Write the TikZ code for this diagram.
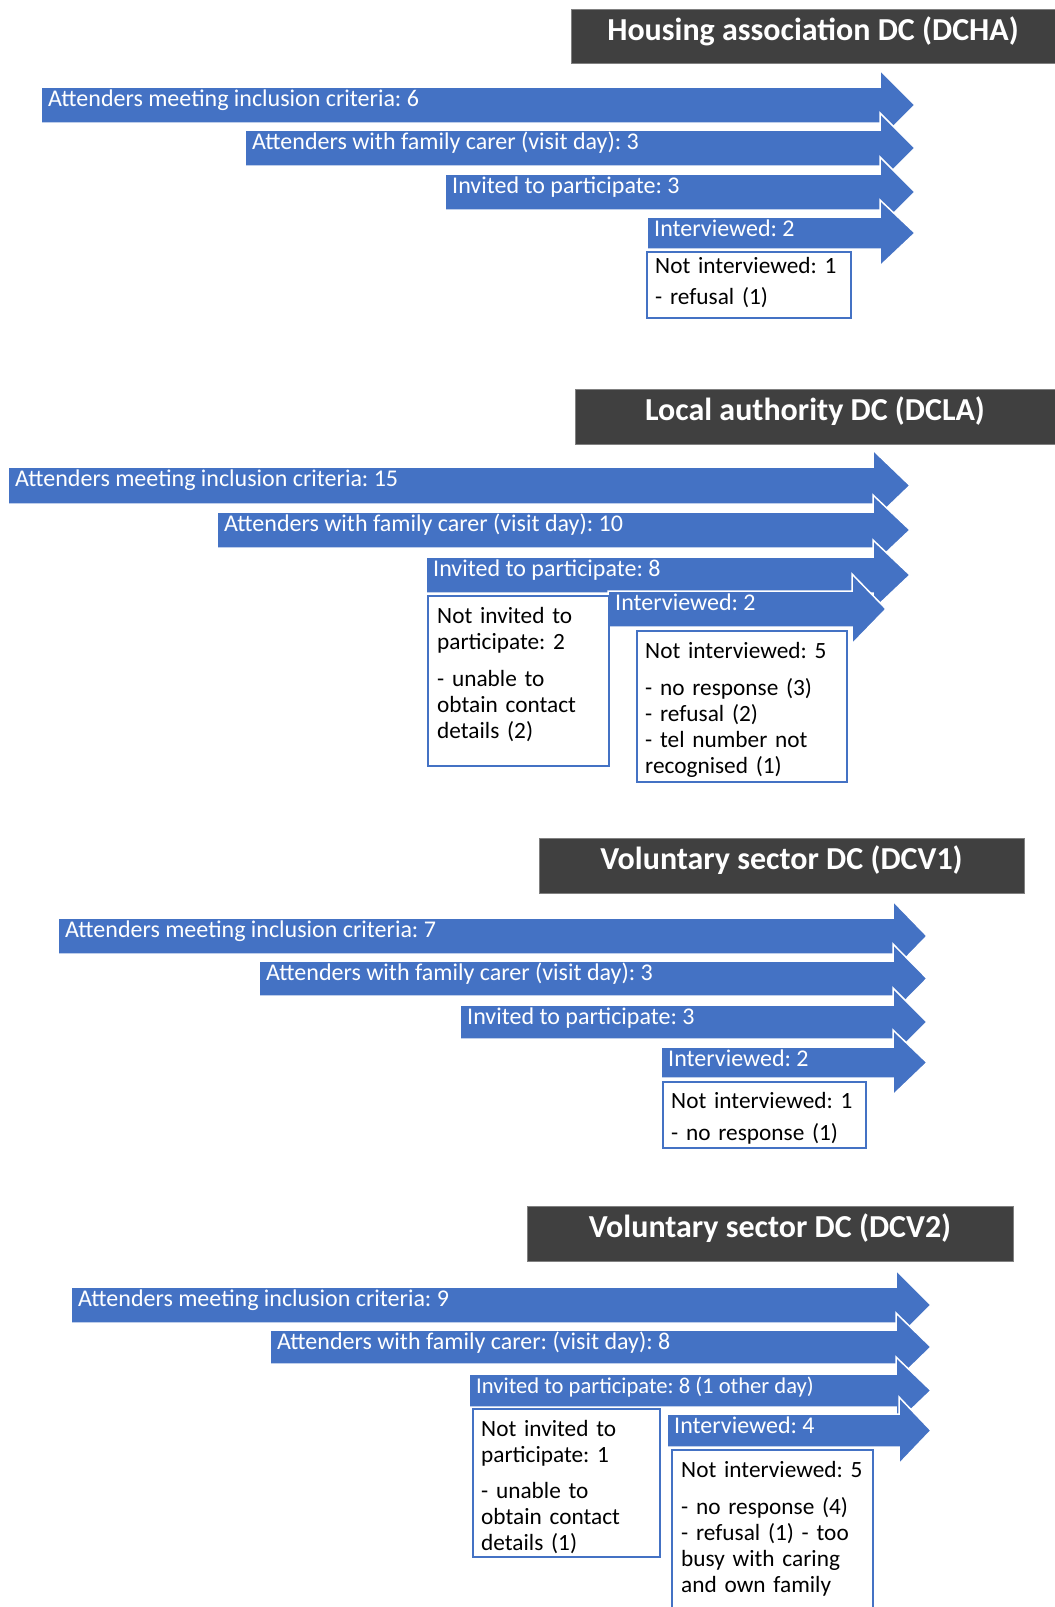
\documentclass[tikz,border=0pt]{standalone}
\usepackage{fontspec}
\setmainfont{Carlito}
\usepackage{xcolor}
\definecolor{barblue}{HTML}{4472C4}
\definecolor{headgray}{HTML}{404040}
\frenchspacing
\tikzstyle{bar}=[fill=barblue, draw=white, line width=1.5pt]
\tikzstyle{bartext}=[anchor=base west, inner sep=0pt, text=white, font=\fontsize{24}{27}\selectfont]
\tikzstyle{note}=[draw=barblue, line width=2pt, fill=white]
\tikzstyle{notetext}=[anchor=base west, inner sep=0pt, align=left, text width=200pt, font=\fontsize{23.3}{26}\selectfont]
\tikzstyle{header}=[fill=headgray, draw=gray, line width=1pt]
\tikzstyle{headtext}=[anchor=base, inner sep=0pt, text=white, font=\bfseries\fontsize{32}{36}\selectfont]
% name, left, top, bottom, head base, tip, label
\newcommand{\bararrow}[7]{
	\draw[bar] (#2,#3) -- (#5,#3) -- (#5,#3-17) -- (#6,{(#3+#4)/2}) -- (#5,#4+17) -- (#5,#4) -- (#2,#4) -- cycle;
	\node[bartext] (#1) at (#2+7,#3+19) {#7};
}
% name, left, top, right, bottom, label
\newcommand{\sitehead}[6]{
	\draw[header] (#2,#3) rectangle (#4,#5);
	\node[headtext] (#1) at ({(#2+#4)/2},#3+31) {#6};
}

\begin{document}
\begin{tikzpicture}[x=1pt, y=-1pt]
\useasboundingbox (0,0) rectangle (1055,1607);
\clip (0,0) rectangle (1055,1607);

% DCHA
\sitehead{hdcha}{571}{9}{1055}{63}{Housing association DC (DCHA)}
\foreach \n/\l/\t/\b/\txt in {
	ha1/41/87/123/{Attenders meeting inclusion criteria: 6},
	ha2/245/130/166/{Attenders with family carer (visit day): 3},
	ha3/445/174/210/{Invited to participate: 3},
	ha4/647/217/249/{Interviewed: 2}}{
	\bararrow{\n}{\l}{\t}{\b}{880}{915}{\txt}
	}
\draw[note] (647,252) rectangle (851,318);
\node[notetext] (hani) at (655,273) {Not interviewed: 1\\[5pt]- refusal (1)};

% DCLA
\sitehead{hdcla}{575}{389}{1055}{444}{Local authority DC (DCLA)}
\foreach \n/\l/\t/\b/\hb/\tp/\txt in {
	la1/8/467/504/873/910/{Attenders meeting inclusion criteria: 15},
	la2/217/512/548/873/910/{Attenders with family carer (visit day): 10},
	la3/426/557/593/873/910/{Invited to participate: 8},
	la4/608/591/627/852/886/{Interviewed: 2}}{
	\bararrow{\n}{\l}{\t}{\b}{\hb}{\tp}{\txt}
	}
\draw[note] (428,596) rectangle (609,766);
\node[notetext] (lani1) at (437,623) {Not invited to\\participate: 2\\[11pt]- unable to\\obtain contact\\details (2)};
\draw[note] (637,631) rectangle (847,782);
\node[notetext] (lani2) at (645,658) {Not interviewed: 5\\[11pt]- no response (3)\\- refusal (2)\\- tel number not\\recognised (1)};

% DCV1
\sitehead{hdcv1}{539}{838}{1024}{893}{Voluntary sector DC (DCV1)}
\foreach \n/\l/\t/\b/\txt in {
	va1/58/918/954/{Attenders meeting inclusion criteria: 7},
	va2/259/961/996/{Attenders with family carer (visit day): 3},
	va3/460/1005/1039/{Invited to participate: 3},
	va4/661/1047/1078/{Interviewed: 2}}{
	\bararrow{\n}{\l}{\t}{\b}{893}{927}{\txt}
	}
\draw[note] (663,1082) rectangle (866,1148);
\node[notetext] (vani) at (671,1108) {Not interviewed: 1\\[6pt]- no response (1)};

% DCV2
\sitehead{hdcv2}{527}{1206}{1013}{1261}{Voluntary sector DC (DCV2)}
\foreach \n/\l/\t/\b/\hb/\txt in {
	vb1/71/1287/1323/896/{Attenders meeting inclusion criteria: 9},
	vb2/270/1330/1364/896/{Attenders with family carer: (visit day): 8},
	vb3/469/1374/1407/896/{\fontsize{22.6}{26}\selectfont Invited to participate: 8 (1 other day)},
	vb4/667/1414/1447/899/{Interviewed: 4}}{
	\bararrow{\n}{\l}{\t}{\b}{\hb}{931}{\txt}
	}
\draw[note] (473,1409) rectangle (660,1557);
\node[notetext] (vbni1) at (481,1436) {Not invited to\\participate: 1\\[10pt]- unable to\\obtain contact\\details (1)};
\draw[note] (672,1450) rectangle (873,1625);
\node[notetext] (vbni2) at (681,1477) {Not interviewed: 5\\[11pt]- no response (4)\\- refusal (1) - too\\busy with caring\\and own family};
\end{tikzpicture}
\end{document}
